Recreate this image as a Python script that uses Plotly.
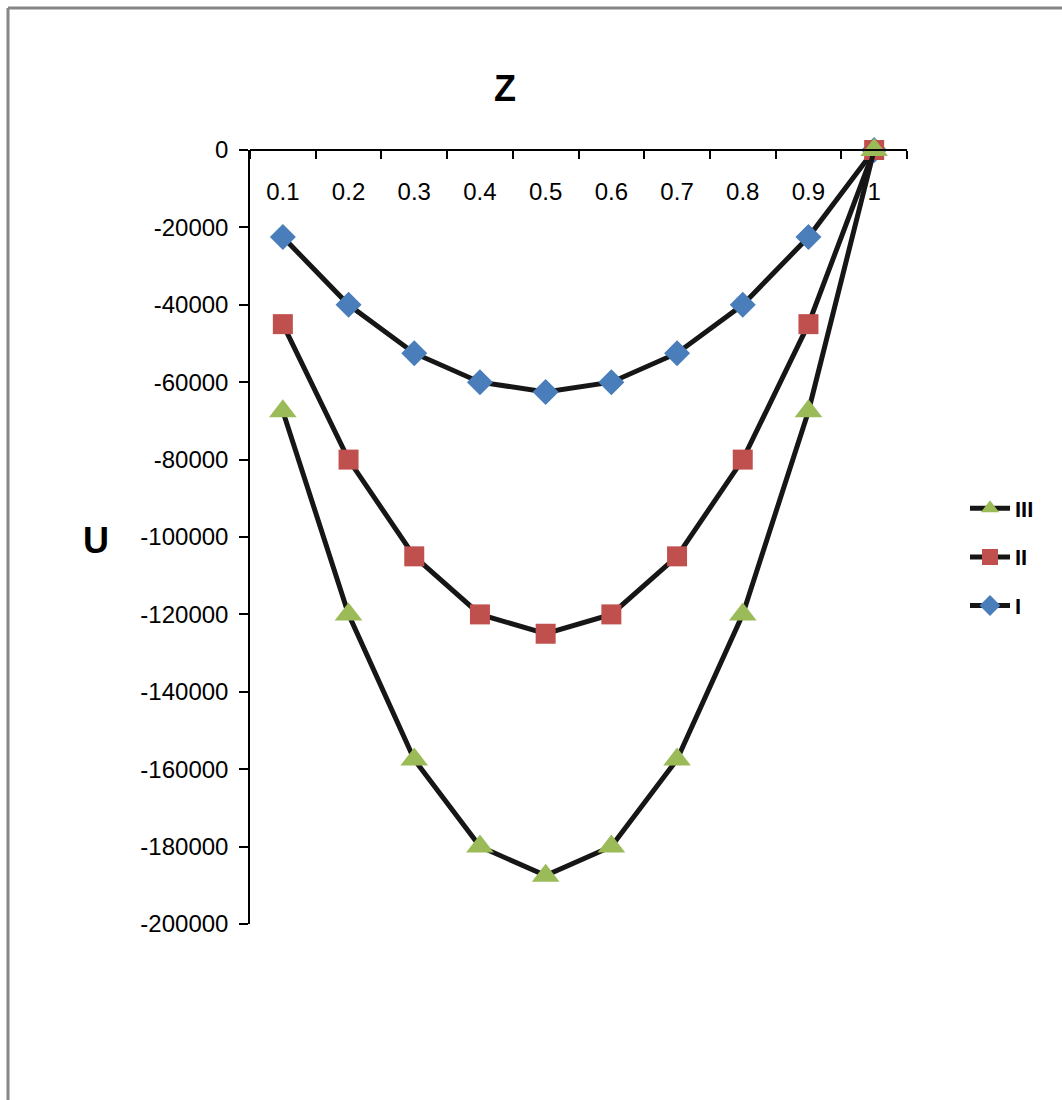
import plotly.graph_objects as go

categories = ["0.1", "0.2", "0.3", "0.4", "0.5", "0.6", "0.7", "0.8", "0.9", "1"]
series_I = [-22500, -40000, -52500, -60000, -62500, -60000, -52500, -40000, -22500, 0]
series_II = [-45000, -80000, -105000, -120000, -125000, -120000, -105000, -80000, -45000, 0]
series_III = [-67500, -120000, -157500, -180000, -187500, -180000, -157500, -120000, -67500, 0]
y_tick_vals = [0, -20000, -40000, -60000, -80000, -100000, -120000, -140000, -160000, -180000, -200000]
y_tick_text = ["0", "-20000", "-40000", "-60000", "-80000", "-100000", "-120000", "-140000", "-160000", "-180000", "-200000"]

FONT = "Liberation Sans, Arial, sans-serif"
W, H = 1062, 1100
L, R, T, B = 250, 155, 150, 176
PW, PH = W - L - R, H - T - B

def px_x(x):
    return (x - L) / PW

def px_y(y):
    return 1 - (y - T) / PH

fig = go.Figure()
specs = [
    ("I", series_I, "diamond", "#4A7EBB", 20, 3),
    ("II", series_II, "square", "#C0504D", 20, 2),
    ("III", series_III, "triangle-up", "#9BBB59", 24, 1),
]
for name, vals, sym, col, size, rank in specs:
    fig.add_trace(go.Scatter(
        x=categories, y=vals, name=name, mode="lines+markers",
        line=dict(color="#161616", width=5),
        marker=dict(symbol=sym, size=size, color=col, line=dict(width=0)),
        cliponaxis=False, legendgroup=name, legendrank=rank,
    ))

fig.update_layout(
    width=W, height=H,
    margin=dict(l=L, r=R, t=T, b=B),
    paper_bgcolor="white", plot_bgcolor="white",
    font=dict(family=FONT, size=24, color="black"),
    showlegend=True,
    legend=dict(
        x=px_x(965), y=px_y(557), xanchor="left", yanchor="middle",
        traceorder="grouped", tracegroupgap=17,
        font=dict(family=FONT, size=22, color="black", weight="bold"),
        bgcolor="rgba(0,0,0,0)", itemwidth=40,
    ),
    xaxis=dict(
        type="category", range=[-0.5, 9.5], side="bottom",
        anchor="free", position=1,
        showline=True, linecolor="black", linewidth=1.5,
        ticks="outside", ticklen=8, tickwidth=1.5, tickcolor="black",
        tickson="boundaries", ticklabelstandoff=20,
        showgrid=False, zeroline=False,
        tickfont=dict(family=FONT, size=24, color="black"),
    ),
    yaxis=dict(
        range=[-200000, 0], tickvals=y_tick_vals, ticktext=y_tick_text,
        showline=True, linecolor="black", linewidth=1.5,
        ticks="outside", ticklen=9, tickwidth=1.5, tickcolor="black",
        ticklabelstandoff=6,
        showgrid=False, zeroline=False,
        tickfont=dict(family=FONT, size=24, color="black"),
    ),
    annotations=[
        dict(text="<b>Z</b>", x=px_x(505), y=px_y(88), xref="paper", yref="paper",
             showarrow=False, font=dict(family=FONT, size=36, color="black"),
             xanchor="center", yanchor="middle"),
        dict(text="<b>U</b>", x=px_x(96), y=px_y(540), xref="paper", yref="paper",
             showarrow=False, font=dict(family=FONT, size=36, color="black"),
             xanchor="center", yanchor="middle"),
    ],
    shapes=[
        dict(type="line", xref="paper", yref="paper", x0=px_x(8), x1=px_x(1062),
             y0=px_y(8), y1=px_y(8), line=dict(color="#868686", width=3)),
        dict(type="line", xref="paper", yref="paper", x0=px_x(8), x1=px_x(8),
             y0=px_y(8), y1=px_y(1100), line=dict(color="#868686", width=3)),
    ],
)

fig.write_html("out.html")
